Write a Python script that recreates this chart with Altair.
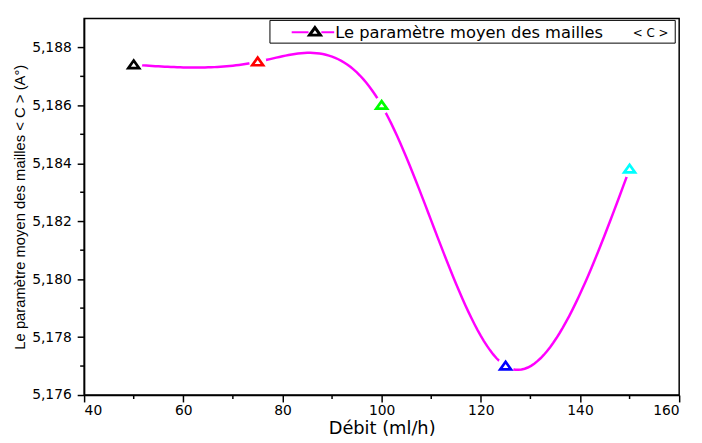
import altair as alt
import numpy as np
import pandas as pd

# ---- data ----
flow = [50, 75, 100, 125, 150]
c_param = [5.1874, 5.1875, 5.1860, 5.1770, 5.1838]
point_colors = ["#000000", "#ff0000", "#00ff00", "#0000ff", "#00ffff"]
x_ticks = [40, 60, 80, 100, 120, 140, 160]
x_minor = [50, 70, 90, 110, 130, 150]
y_ticks = [5.176, 5.178, 5.180, 5.182, 5.184, 5.186, 5.188]
y_minor = [5.177, 5.179, 5.181, 5.183, 5.185, 5.187]

WIDE = "DejaVu Sans"
NARROW = "Liberation Sans Narrow, Liberation Sans"
W, H = 602, 381
XDOM = [40, 160]
YDOM = [5.176, 5.189]
TRI = "M-1,0.62L1,0.62L0,-0.78Z"

# natural cubic spline through the data points (Origin-style spline line)
xa = np.array(flow, dtype=float)
ya = np.array(c_param, dtype=float)
n = len(xa)
h = np.diff(xa)
A = np.zeros((n - 2, n - 2))
rhs = np.zeros(n - 2)
for i in range(n - 2):
    A[i, i] = 2 * (h[i] + h[i + 1])
    if i > 0:
        A[i, i - 1] = h[i]
    if i < n - 3:
        A[i, i + 1] = h[i + 1]
    rhs[i] = 6 * ((ya[i + 2] - ya[i + 1]) / h[i + 1] - (ya[i + 1] - ya[i]) / h[i])
M = np.zeros(n)
M[1:-1] = np.linalg.solve(A, rhs)
xs, ys = [], []
for i in range(n - 1):
    for t in np.linspace(0, 1, 40, endpoint=(i == n - 2)):
        xx = xa[i] + t * h[i]
        a = 1 - t
        yy = (a * ya[i] + t * ya[i + 1]
              + ((a ** 3 - a) * M[i] + (t ** 3 - t) * M[i + 1]) * h[i] ** 2 / 6)
        xs.append(xx)
        ys.append(yy)
curve = pd.DataFrame({"flow": xs, "c": ys})
pts = pd.DataFrame({"flow": flow, "c": c_param, "k": [str(i) for i in range(n)]})

xsc = alt.Scale(domain=XDOM, nice=False, zero=False)
ysc = alt.Scale(domain=YDOM, nice=False, zero=False)

xaxis = alt.Axis(values=x_ticks, title="Débit (ml/h)", titleFont=WIDE, titleFontSize=18,
                 labelFont=WIDE, labelFontSize=14, titlePadding=2, labelPadding=2)
yaxis = alt.Axis(values=y_ticks, title="Le paramètre moyen des mailles   < C > (A°)",
                 titleFont=NARROW, titleFontSize=15, labelFont=WIDE, labelFontSize=14,
                 titlePadding=4, labelPadding=6,
                 labelExpr="replace(format(datum.value, '.3f'), '.', ',')")

line = alt.Chart(curve).mark_line(color="#ff00ff", strokeWidth=2.5).encode(
    x=alt.X("flow:Q", scale=xsc, axis=xaxis),
    y=alt.Y("c:Q", scale=ysc, axis=yaxis),
)
gaps = alt.Chart(pts).mark_point(shape="circle", filled=True, color="white",
                                 opacity=1, size=300).encode(
    x=alt.X("flow:Q", scale=xsc), y=alt.Y("c:Q", scale=ysc))
tri = alt.Chart(pts).mark_point(shape=TRI, filled=False, strokeWidth=2.7,
                                opacity=1, size=120).encode(
    x=alt.X("flow:Q", scale=xsc), y=alt.Y("c:Q", scale=ysc),
    color=alt.Color("k:N", scale=alt.Scale(domain=pts["k"].tolist(), range=point_colors),
                    legend=None))

ymin = alt.Chart(pd.DataFrame({"y": y_minor})).mark_rule(color="black", strokeWidth=1.5).encode(
    y=alt.Y("y:Q", scale=ysc), x=alt.value(-4), x2=alt.value(0))
xmin = alt.Chart(pd.DataFrame({"x": x_minor})).mark_rule(color="black", strokeWidth=1.5).encode(
    x=alt.X("x:Q", scale=xsc), y=alt.value(H), y2=alt.value(H + 4))

one = pd.DataFrame({"a": [0]})
lg_box = alt.Chart(one).mark_rect(fill="white", stroke="black", strokeWidth=1).encode(
    x=alt.value(188), x2=alt.value(598), y=alt.value(2), y2=alt.value(25))
lg_l1 = alt.Chart(one).mark_rule(color="#ff00ff", strokeWidth=2).encode(
    x=alt.value(210), x2=alt.value(227), y=alt.value(14))
lg_l2 = alt.Chart(one).mark_rule(color="#ff00ff", strokeWidth=2).encode(
    x=alt.value(240), x2=alt.value(253), y=alt.value(14))
lg_tri = alt.Chart(one).mark_point(shape=TRI, filled=False, strokeWidth=3,
                                   color="black", opacity=1, size=120).encode(
    x=alt.value(233.5), y=alt.value(13.5))
lg_txt = alt.Chart(one).mark_text(text="Le paramètre moyen des mailles", font=WIDE,
                                  fontSize=16.5, align="left", baseline="alphabetic",
                                  color="black").encode(x=alt.value(254), y=alt.value(20))
lg_c = alt.Chart(one).mark_text(text="< C >", font=WIDE, fontSize=12, align="left",
                                baseline="alphabetic", color="black").encode(
    x=alt.value(555), y=alt.value(19))

chart = alt.layer(line, gaps, tri, ymin, xmin, lg_box, lg_l1, lg_l2, lg_tri, lg_txt, lg_c).properties(
    width=W, height=H,
    autosize=alt.AutoSizeParams(type="none"),
    padding={"left": 77, "top": 8, "right": 15, "bottom": 46},
).configure_view(stroke="black", strokeWidth=1.5).configure_axis(
    grid=False, domainColor="black", domainWidth=1.5, tickColor="black", tickWidth=1.5,
    tickSize=7, labelColor="black", titleColor="black", titleFontWeight="normal",
)

chart.save("out.html", embed_options={"renderer": "svg", "actions": False})
